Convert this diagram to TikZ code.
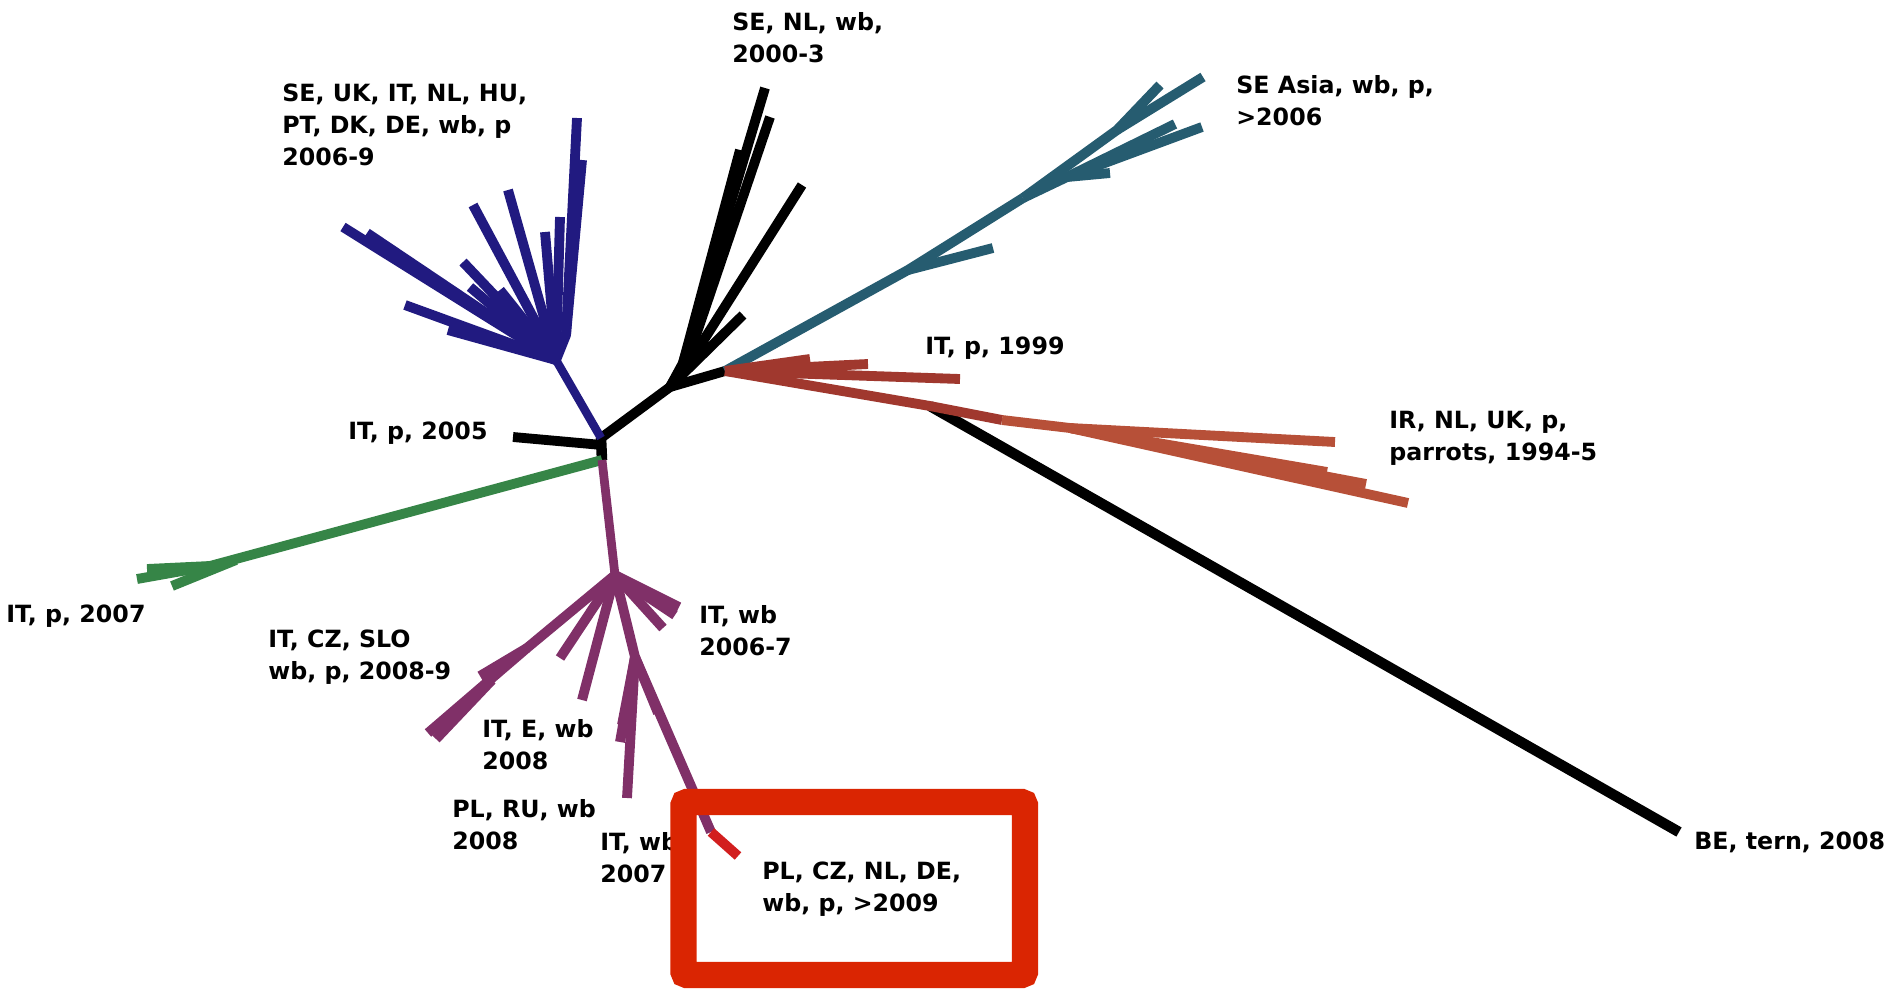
\documentclass[tikz,border=0pt]{standalone}
\usepackage{fontspec}
\setmainfont{DejaVu Sans}
\begin{document}
\definecolor{cblue}{RGB}{33,26,128}
\definecolor{cteal}{RGB}{38,92,112}
\definecolor{cdred}{RGB}{160,56,46}
\definecolor{cored}{RGB}{183,80,56}
\definecolor{cgreen}{RGB}{54,133,71}
\definecolor{cpurp}{RGB}{128,48,104}
\definecolor{ctip}{RGB}{210,30,30}
\definecolor{cbox}{RGB}{218,37,2}
\begin{tikzpicture}[x=0.02cm,y=-0.02cm,
  br/.style={line width=5.6pt, line cap=butt, line join=round},
  thin br/.style={line width=4.8pt, line cap=butt, line join=round},
  lbl/.style={anchor=north west, inner sep=0pt, align=left, font=\fontsize{13.5}{18}\selectfont\bfseries}]
\useasboundingbox (0,0) rectangle (1891,988);

% ---- key points
\coordinate (R) at (601,438);
\coordinate (R2) at (602,460);
\coordinate (B) at (670,387);
\coordinate (C) at (725,371);
\coordinate (F) at (556,360);
\coordinate (P1) at (615,575);
\coordinate (G1) at (210,566);

% ---- black BE long branch (under red)
\coordinate (K) at (930,406);
\coordinate (be) at (1679,832);
\draw[br, line width=6pt] (K) -- (be);

% ---- root black
\coordinate (l2005) at (513,437);
\draw[br, line width=6pt] (R) -- (R2);
\draw[br] (602,445) -- (l2005);
\draw[br] (R) -- (B);
\draw[br] (B) -- (C);

% ---- black SE/NL clade
\coordinate (k1) at (765,88);
\coordinate (k2) at (770,117);
\coordinate (k3) at (802,185);
\coordinate (k4) at (743,315);
\coordinate (k1b) at (740,150);
\draw[br] (B) -- (683,363) -- (k1);
\draw[br] (683,363) -- (k1b);
\draw[br] (B) -- (690,353) -- (k2);
\draw[br] (B) -- (693,357) -- (k3);
\draw[br] (B) -- (687,370) -- (k4);

% ---- teal clade
\coordinate (T1) at (908,270);
\coordinate (T2) at (1023,198);
\coordinate (T3) at (1117,130);
\coordinate (T4) at (1067,177);
\draw[br, cteal] (C) -- (T1) -- (T2);
\draw[br, cteal] (T1) -- (993,248);
\draw[br, cteal] (T2) -- (T3) -- (1160,85);
\draw[br, cteal] (T3) -- (1203,77);
\draw[br, cteal] (T2) -- (T4) -- (1110,173);
\draw[br, cteal] (T4) -- (1175,124);
\draw[br, cteal] (T4) -- (1202,127);

% ---- red clade
\coordinate (L) at (1002,420);
\coordinate (S) at (1070,428);
\draw[br, cdred] (C) -- (868,364);
\draw[br, cdred] (C) -- (810,359);
\draw[br, cdred] (C) -- (960,379);
\draw[br, cdred] (C) -- (K) -- (L);
\draw[br, cored] (L) -- (S) -- (1335,442);
\draw[br, cored] (S) -- (1408,503);
\draw[br, cored] (S) -- (1366,484);
\draw[br, cored] (S) -- (1327,472);

% ---- blue clade
\draw[thin br, cblue] (R) -- (F);
\draw[br, cblue] (F) -- (566,335) -- (577,118);
\draw[br, cblue] (566,335) -- (582,160);
\draw[br, cblue] (F) -- (560,217);
\draw[br, cblue] (F) -- (545,232);
\draw[br, cblue] (F) -- (508,190);
\draw[br, cblue] (F) -- (473,205);
\draw[br, cblue] (F) -- (463,262);
\draw[br, cblue] (F) -- (470,287);
\draw[br, cblue] (F) -- (500,290);
\draw[br, cblue] (F) -- (343,227);
\draw[br, cblue] (F) -- (367,233);
\draw[br, cblue] (F) -- (405,305);
\draw[br, cblue] (F) -- (448,330);

% ---- green
\draw[br, cgreen] (R2) -- (G1);
\draw[br, cgreen] (G1) -- (147,569);
\draw[br, cgreen] (G1) -- (137,579);
\draw[br, cgreen] (236,560) -- (172,586);

% ---- purple clade
\coordinate (M1) at (527,648);
\coordinate (D1) at (635,657);
\coordinate (ptip) at (711,832);
\coordinate (rtip) at (738,856);
\draw[thin br, cpurp, line width=5pt] (R2) -- (P1);
\draw[br, cpurp] (P1) -- (M1) -- (428,733);
\draw[br, cpurp] (M1) -- (480,676);
\draw[br, cpurp] (492,680) -- (436,739);
\draw[br, cpurp] (P1) -- (560,658);
\draw[br, cpurp] (P1) -- (582,700);
\draw[br, cpurp] (P1) -- (D1) -- (627,798);
\draw[br, cpurp] (D1) -- (622,725);
\draw[br, cpurp] (D1) -- (620,742);
\draw[br, cpurp] (D1) -- (ptip);
\draw[br, cpurp] (D1) -- (658,713);
\draw[br, ctip] (ptip) -- (rtip);
\draw[br, cpurp] (P1) -- (679,607);
\draw[br, cpurp] (P1) -- (675,615);
\draw[br, cpurp] (P1) -- (663,628);

% ---- labels
\node[lbl] (nSE) at (732,12) {SE, NL, wb,\\2000-3};
\node[lbl] (nEU) at (282,84) {SE, UK, IT, NL, HU,\\PT, DK, DE, wb, p\\2006-9};
\node[lbl] (nAsia) at (1236,75) {SE Asia, wb, p,\\>2006};
\node[lbl] (n1999) at (925,337) {IT, p, 1999};
\node[lbl] (nIR) at (1389,411) {IR, NL, UK, p,\\parrots, 1994-5};
\node[lbl] (n2005) at (348,422) {IT, p, 2005};
\node[lbl] (n2007) at (6,605) {IT, p, 2007};
\node[lbl] (nCZ) at (268,630) {IT, CZ, SLO\\wb, p, 2008-9};
\node[lbl] (nIT67) at (699,605) {IT, wb\\2006-7};
\node[lbl] (nE) at (482,719) {IT, E, wb\\2008};
\node[lbl] (nPL) at (452,799) {PL, RU, wb\\2008};
\node[lbl] (nIT7) at (600,832) {IT, wb\\2007};
\node[lbl] (nNew) at (762,862) {PL, CZ, NL, DE,\\wb, p, >2009};
\node[lbl] (nBE) at (1694,832) {BE, tern, 2008};

% ---- highlight box
\draw[cbox, line width=15pt, rounded corners=2pt] (683.5,802) rectangle (1025,975);
\end{tikzpicture}
\end{document}
